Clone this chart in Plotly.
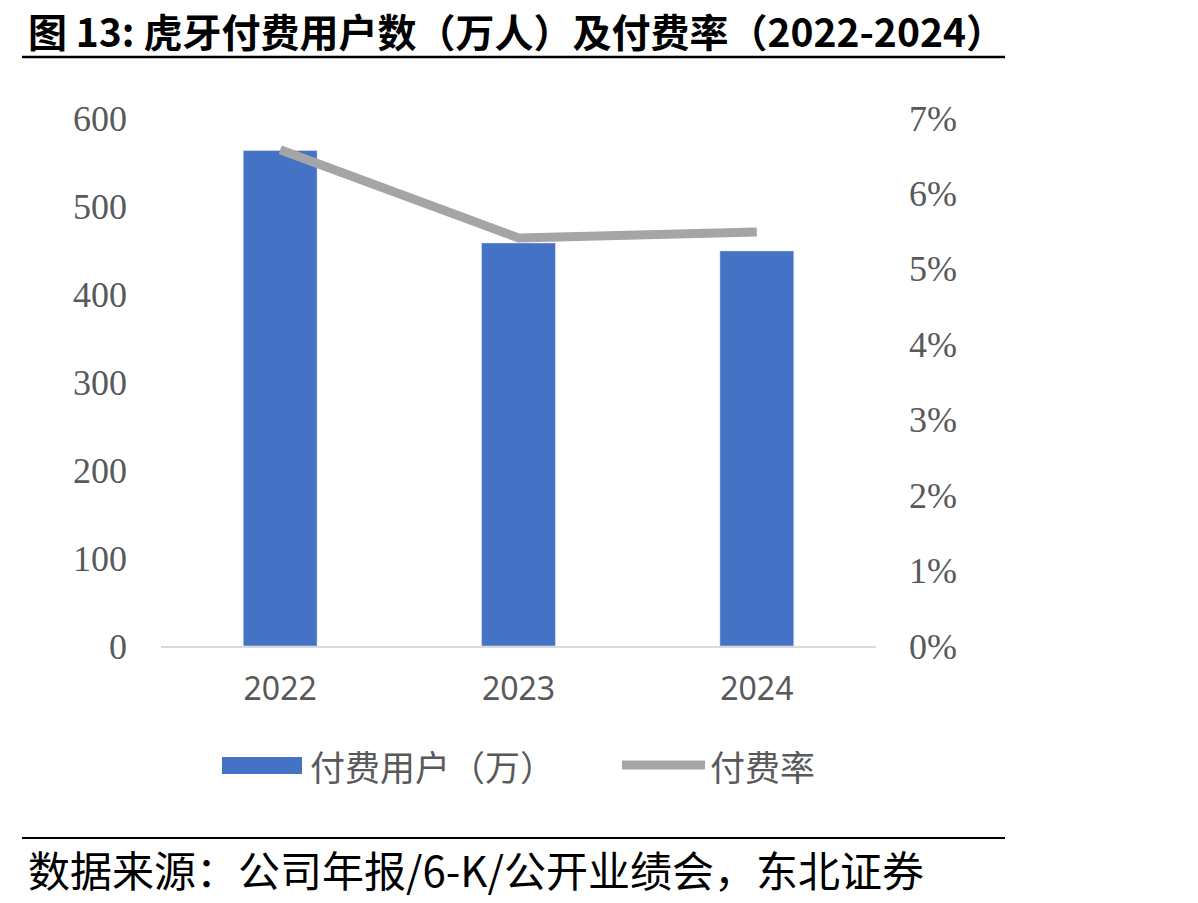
import plotly.graph_objects as go

years = ["2022", "2023", "2024"]
paying_users = [563, 458, 449]          # 万人
paying_rate = [0.0658, 0.0541, 0.0549]  # 付费率

title_text = "图 13: 虎牙付费用户数（万人）及付费率（2022-2024）"
source_text = "数据来源：公司年报/6-K/公开业绩会，东北证券"
bar_name = "付费用户（万）"
line_name = "付费率"

BLUE = "#4472C4"
GREY = "#A5A5A5"
TICK = "#595959"

L, R, T, B = 161, 876, 118, 646
PW, PH = R - L, B - T


def px(x):
    return (x - L) / PW


def py(y):
    return (B - y) / PH


fig = go.Figure()
fig.add_trace(go.Bar(x=years, y=paying_users, name=bar_name, marker_color=BLUE,
                     width=0.31, yaxis="y", showlegend=False))
fig.add_trace(go.Scatter(x=years, y=paying_rate, name=line_name, mode="lines",
                         line=dict(color=GREY, width=9), yaxis="y2", showlegend=False))

fig.update_layout(
    width=1198, height=903,
    margin=dict(l=L, r=1198 - R, t=T, b=903 - B),
    paper_bgcolor="white", plot_bgcolor="white",
    showlegend=False,
    xaxis=dict(showline=True, linecolor="#D9D9D9", linewidth=2, showgrid=False,
               ticks="", tickfont=dict(family="Noto Sans", size=32, color=TICK),
               ticklabelstandoff=14),
    yaxis=dict(range=[0, 600], dtick=100, showgrid=False, showline=False, zeroline=False,
               tickfont=dict(family="Liberation Serif", size=36, color=TICK),
               ticklabelstandoff=33),
    yaxis2=dict(range=[0, 0.07], dtick=0.01, tickformat=".0%", overlaying="y", side="right",
                showgrid=False, showline=False, zeroline=False,
                tickfont=dict(family="Liberation Serif", size=36, color=TICK),
                ticklabelstandoff=32),
)

shapes = [
    dict(type="line", xref="paper", yref="paper", x0=px(22), x1=px(1005), y0=py(57), y1=py(57),
         line=dict(color="black", width=2.5)),
    dict(type="line", xref="paper", yref="paper", x0=px(22), x1=px(1005), y0=py(838), y1=py(838),
         line=dict(color="black", width=2)),
    dict(type="rect", xref="paper", yref="paper", x0=px(222), x1=px(302), y0=py(774), y1=py(757),
         fillcolor=BLUE, line=dict(width=0)),
    dict(type="line", xref="paper", yref="paper", x0=px(622), x1=px(705), y0=py(765), y1=py(765),
         line=dict(color=GREY, width=9)),
]
fig.update_layout(shapes=shapes)

ann = [
    dict(text=f"<b>{title_text}</b>", xref="paper", yref="paper",
         x=px(26), y=py(30), xanchor="left", yanchor="middle",
         showarrow=False, font=dict(family="Noto Sans CJK SC", size=39, color="black")),
    dict(text=source_text, xref="paper", yref="paper",
         x=px(26), y=py(868), xanchor="left", yanchor="middle",
         showarrow=False, font=dict(family="Noto Sans CJK SC", size=42, color="black")),
    dict(text=bar_name, xref="paper", yref="paper",
         x=px(308), y=py(765), xanchor="left", yanchor="middle",
         showarrow=False, font=dict(family="Noto Sans CJK SC", size=35, color=TICK)),
    dict(text=line_name, xref="paper", yref="paper",
         x=px(708), y=py(765), xanchor="left", yanchor="middle",
         showarrow=False, font=dict(family="Noto Sans CJK SC", size=35, color=TICK)),
]
fig.update_layout(annotations=ann)

fig.write_html("out.html")
